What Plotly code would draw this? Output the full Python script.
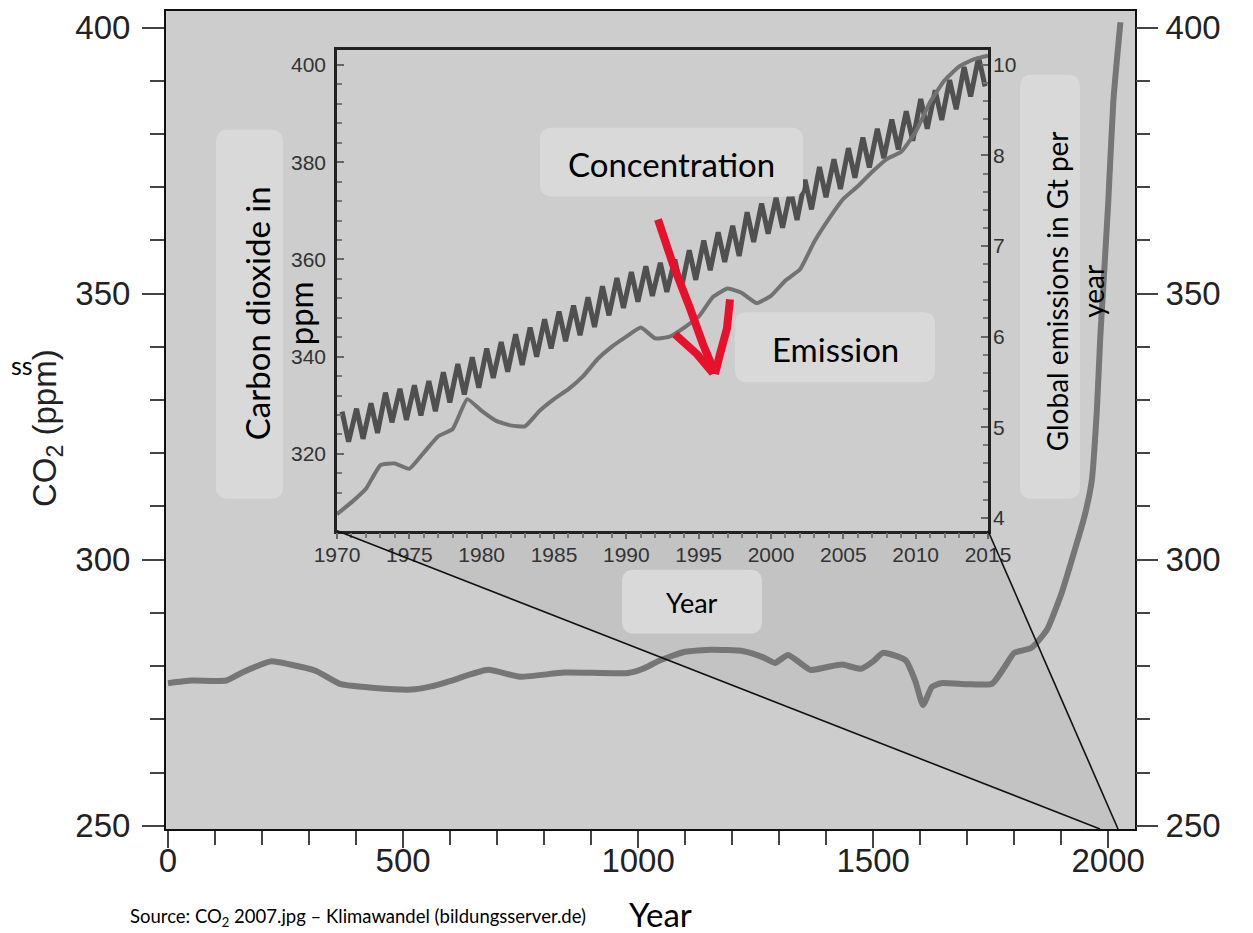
import plotly.graph_objects as go

# ------------------------------------------------------------------ data
# Long-term record (year, CO2 ppm)
main_years = [0, 50, 124, 160, 219, 260, 315, 368, 440, 517, 560, 600, 681, 749,
              843, 979, 1010, 1047, 1100, 1155, 1224, 1265, 1291, 1319, 1366, 1400,
              1434, 1474, 1500, 1521, 1569, 1590, 1606, 1625, 1644, 1700, 1753, 1780,
              1800, 1836, 1862, 1872, 1900, 1921, 1950, 1965, 1976, 1983, 1989, 2000,
              2011, 2026]
main_co2 = [276.8, 277.3, 277.3, 278.9, 280.9, 280.3, 279.1, 276.6, 275.9, 275.6,
            276.2, 277.2, 279.3, 278.0, 278.8, 278.7, 279.5, 281.1, 282.7, 283.1,
            282.8, 281.7, 280.6, 282.1, 279.3, 279.8, 280.3, 279.5, 280.9, 282.5,
            281.1, 277.1, 272.7, 276.1, 276.8, 276.6, 276.7, 279.9, 282.5, 283.4,
            285.9, 287.2, 293.5, 299.5, 308.3, 314.8, 328.3, 341.6, 350.5, 367.0,
            386.3, 401.0]

# Inset: seasonal concentration (ppm), yearly maxima / minima
conc_years = list(range(1970, 2015))
conc_peak = [328.7, 329.3, 330.4, 332.6, 333.4, 334.1, 335.0, 336.8, 338.5, 339.9,
             341.7, 343.0, 344.6, 346.0, 347.7, 349.3, 350.5, 352.2, 354.5, 356.2,
             357.4, 358.6, 359.3, 360.0, 361.9, 363.9, 365.6, 366.9, 369.7, 371.5,
             372.7, 374.3, 376.4, 379.0, 380.6, 382.9, 385.1, 386.9, 388.8, 390.5,
             393.0, 394.8, 396.9, 399.6, 401.6]
conc_trough = [322.5, 323.1, 324.3, 326.5, 327.0, 327.9, 328.8, 330.6, 332.2, 333.6,
               335.6, 336.9, 338.3, 340.0, 341.7, 343.2, 344.4, 346.1, 348.5, 350.0,
               351.3, 352.5, 353.3, 354.0, 355.8, 357.8, 359.5, 360.7, 363.6, 365.3,
               366.5, 368.1, 370.3, 372.8, 374.5, 376.8, 378.9, 380.8, 382.6, 384.4,
               386.9, 388.7, 390.9, 393.5, 395.6]

# Inset: global emissions, read against the right-hand inset scale
emis_years = list(range(1970, 2016))
emis_level = [4.04, 4.17, 4.32, 4.58, 4.60, 4.54, 4.72, 4.90, 4.98, 5.31,
              5.18, 5.07, 5.02, 5.01, 5.18, 5.31, 5.42, 5.56, 5.75, 5.89,
              6.00, 6.10, 5.98, 6.00, 6.10, 6.22, 6.44, 6.53, 6.48, 6.37,
              6.45, 6.62, 6.74, 7.05, 7.30, 7.52, 7.66, 7.82, 7.96, 8.04,
              8.26, 8.59, 8.83, 8.98, 9.06, 9.10]
emis_ticks = [4, 5, 6, 7, 8, 9]
emis_ticklabels = ["4", "5", "6", "7", "8", "10"]

main_xticks = [0, 500, 1000, 1500, 2000]
main_yticks = [250, 300, 350, 400]
inset_xticks = list(range(1970, 2016, 5))
inset_yticks = [320, 340, 360, 380, 400]

# ------------------------------------------------------------------ geometry helpers
PAGE_W, PAGE_H = 1253, 933
OFF = 8                                   # page body margin
L, T, PW, PH = 166, 9, 969, 820           # main plotting area (page pixels)
FW, FH = PAGE_W - OFF, PAGE_H - OFF


def fx(px):
    return (px - L) / PW


def fy(py):
    return 1 - (py - T) / PH


def pt(px, py):
    return f"{fx(px):.5f},{fy(py):.5f}"


def rbox(x0, y0, x1, y1, r=12):
    return (f"M {pt(x0 + r, y0)} L {pt(x1 - r, y0)} Q {pt(x1, y0)} {pt(x1, y0 + r)} "
            f"L {pt(x1, y1 - r)} Q {pt(x1, y1)} {pt(x1 - r, y1)} L {pt(x0 + r, y1)} "
            f"Q {pt(x0, y1)} {pt(x0, y1 - r)} L {pt(x0, y0 + r)} Q {pt(x0, y0)} {pt(x0 + r, y0)} Z")


def poly(points, close=False):
    s = "M " + " L ".join(pt(a, b) for a, b in points)
    return s + (" Z" if close else "")


INSET = (337, 48, 988, 530)              # left, top, right, bottom (page px)

# ------------------------------------------------------------------ traces
conc_x, conc_y = [], []
for yr, hi, lo in zip(conc_years, conc_peak, conc_trough):
    conc_x += [yr + 0.35, yr + 0.8]
    conc_y += [hi, lo]

fig = go.Figure()
fig.add_trace(go.Scatter(x=main_years, y=main_co2, mode="lines", xaxis="x", yaxis="y",
                         line=dict(color="#767676", width=6, shape="spline", smoothing=0.5),
                         hoverinfo="skip", showlegend=False))
# invisible copy so that the right-hand main axis is drawn
fig.add_trace(go.Scatter(x=main_years, y=main_co2, mode="lines", xaxis="x", yaxis="y2",
                         line=dict(color="rgba(0,0,0,0)", width=0),
                         hoverinfo="skip", showlegend=False))
fig.add_trace(go.Scatter(x=conc_x, y=conc_y, mode="lines", xaxis="x2", yaxis="y3",
                         line=dict(color="#505050", width=5),
                         hoverinfo="skip", showlegend=False))
fig.add_trace(go.Scatter(x=emis_years, y=emis_level, mode="lines", xaxis="x2", yaxis="y4",
                         line=dict(color="#727272", width=4, shape="spline", smoothing=0.4),
                         hoverinfo="skip", showlegend=False))

tickfont_main = dict(family="Liberation Sans, Arial", size=33, color="#222222")
tickfont_inset = dict(family="Liberation Sans, Arial", size=21, color="#333333")

fig.update_layout(
    width=FW, height=FH,
    margin=dict(l=L - OFF, r=PAGE_W - L - PW, t=T - OFF, b=PAGE_H - T - PH, pad=0),
    paper_bgcolor="white",
    plot_bgcolor="#cdcdcd",
    showlegend=False,
    xaxis=dict(domain=[0, 1], range=[-4.3, 2057], anchor="y",
               showline=True, linecolor="#111111", linewidth=2, mirror=True,
               showgrid=False, zeroline=False,
               tickmode="array", tickvals=main_xticks, ticks="outside", ticklen=17,
               tickwidth=2, tickcolor="#444444", tickfont=tickfont_main,
               ticklabelstandoff=-16,
               minor=dict(dtick=100, tick0=0, ticks="outside", ticklen=14, tickwidth=2,
                          tickcolor="#444444", showgrid=False)),
    yaxis=dict(domain=[0, 1], range=[249.4, 403.1], anchor="x",
               showline=True, linecolor="#111111", linewidth=2, mirror=True,
               showgrid=False, zeroline=False,
               tickmode="array", tickvals=main_yticks, ticks="outside", ticklen=22,
               tickwidth=2, tickcolor="#444444", tickfont=tickfont_main,
               ticklabelstandoff=5,
               minor=dict(dtick=10, tick0=0, ticks="outside", ticklen=14, tickwidth=2,
                          tickcolor="#444444", showgrid=False)),
    yaxis2=dict(overlaying="y", side="right", anchor="x", range=[249.4, 403.1],
                showline=False, showgrid=False, zeroline=False,
                tickmode="array", tickvals=main_yticks, ticks="outside", ticklen=22,
                tickwidth=2, tickcolor="#444444", tickfont=tickfont_main,
                ticklabelstandoff=1,
                minor=dict(dtick=10, tick0=0, ticks="outside", ticklen=14, tickwidth=2,
                           tickcolor="#444444", showgrid=False)),
    xaxis2=dict(domain=[fx(INSET[0]), fx(INSET[2])], anchor="y3", range=[1970, 2015],
                showline=True, linecolor="#222222", linewidth=2.5, mirror=True,
                showgrid=False, zeroline=False,
                tickmode="array", tickvals=inset_xticks, ticks="outside", ticklen=6,
                tickwidth=1.5, tickcolor="#666666", tickfont=tickfont_inset,
                ticklabelstandoff=-3,
                minor=dict(dtick=1, tick0=1970, ticks="outside", ticklen=5, tickwidth=1.5,
                           tickcolor="#777777", showgrid=False)),
    yaxis3=dict(domain=[fy(INSET[3]), fy(INSET[1])], anchor="x2", range=[304.2, 403.1],
                showline=True, linecolor="#222222", linewidth=2.5, mirror=True,
                showgrid=False, zeroline=False,
                tickmode="array", tickvals=inset_yticks, ticks="inside", ticklen=7,
                tickwidth=1.5, tickcolor="#666666", tickfont=tickfont_inset,
                ticklabelstandoff=4,
                minor=dict(dtick=4, tick0=0, ticks="inside", ticklen=5, tickwidth=1.5,
                           tickcolor="#777777", showgrid=False)),
    yaxis4=dict(overlaying="y3", side="right", anchor="x2", range=[3.857, 9.165],
                showline=False, showgrid=False, zeroline=False,
                tickmode="array", tickvals=emis_ticks, ticktext=emis_ticklabels,
                ticks="inside", ticklen=7, tickwidth=1.5, tickcolor="#666666",
                tickfont=tickfont_inset, ticklabelstandoff=4,
                minor=dict(dtick=0.2, tick0=4, ticks="inside", ticklen=5, tickwidth=1.5,
                           tickcolor="#777777", showgrid=False)),
)

shapes = []
# inset background and zoom wedge
shapes.append(dict(type="path", xref="paper", yref="paper", layer="below",
                   path=poly([(INSET[0], INSET[3]), (INSET[2], INSET[3]), (1118, 829), (1100, 829)], True),
                   fillcolor="#c3c3c3", line=dict(width=0)))
shapes.append(dict(type="rect", xref="paper", yref="paper", layer="below",
                   x0=fx(INSET[0]), x1=fx(INSET[2]), y0=fy(INSET[3]), y1=fy(INSET[1]),
                   fillcolor="#c7c7c7", line=dict(width=0)))
for a, b in [((INSET[0], INSET[3]), (1100, 829)), ((INSET[2], INSET[3]), (1118, 829))]:
    shapes.append(dict(type="line", xref="paper", yref="paper", layer="above",
                       x0=fx(a[0]), y0=fy(a[1]), x1=fx(b[0]), y1=fy(b[1]),
                       line=dict(color="#111111", width=1.6)))
# label boxes
BOX = "#d9d9d9"
for bx in [(216, 128, 283, 498), (540, 126, 803, 195), (735, 311, 935, 381),
           (1020, 73, 1080, 498), (622, 569, 762, 633)]:
    shapes.append(dict(type="path", xref="paper", yref="paper", layer="above",
                       path=rbox(*bx, r=12), fillcolor=BOX, line=dict(width=0)))
# red hand-drawn arrow
RED = "#e8112b"
for stroke in [[(658, 218), (673, 263), (690, 307), (703, 343), (715, 372)],
               [(675, 333), (697, 353), (713, 372)],
               [(730, 298), (727, 327), (720, 353), (715, 373)]]:
    shapes.append(dict(type="path", xref="paper", yref="paper", layer="above",
                       path=poly(stroke), line=dict(color=RED, width=8)))
fig.update_layout(shapes=shapes)

LBL = dict(family="Lato, Carlito, Open Sans", color="#000000")
ann = []
ann.append(dict(text="Carbon dioxide in<br>ppm", x=fx(278), y=fy(312), textangle=-90,
                font=dict(size=33, **LBL)))
ann.append(dict(text="Concentration", x=fx(671), y=fy(162), font=dict(size=33, **LBL)))
ann.append(dict(text="Emission", x=fx(835), y=fy(348), font=dict(size=33, **LBL)))
ann.append(dict(text="Global emissions in Gt per<br>year", x=fx(1075), y=fy(290),
                textangle=-90, font=dict(size=28, **LBL)))
ann.append(dict(text="Year", x=fx(692), y=fy(602), font=dict(size=27, **LBL)))
ann.append(dict(text="Year", x=fx(660), y=fy(914), font=dict(size=33, **LBL)))
ann.append(dict(text="Source: CO<sub>2</sub> 2007.jpg – Klimawandel (bildungsserver.de)",
                x=fx(128), y=fy(918), xanchor="left", font=dict(size=18.5, **LBL)))
ann.append(dict(text="CO<sub>2</sub> (ppm)", x=fx(47), y=fy(427), textangle=-90,
                font=dict(family="Liberation Sans, Arial", size=33, color="#222222")))
ann.append(dict(text="ss", x=fx(OFF + 1), y=fy(364), xanchor="left",
                font=dict(size=25, **LBL)))
for a in ann:
    a.update(xref="paper", yref="paper", showarrow=False)
    a.setdefault("xanchor", "center")
    a.setdefault("yanchor", "middle")
fig.update_layout(annotations=ann)

fig.write_html("out.html")
